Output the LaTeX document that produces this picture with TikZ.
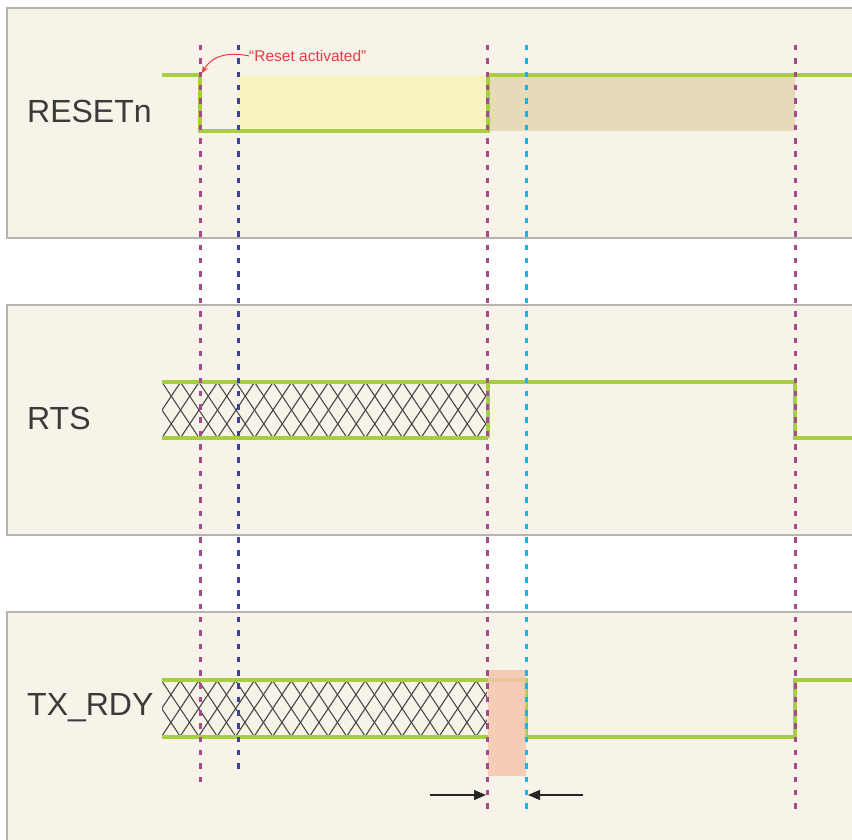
\documentclass[tikz,border=0pt]{standalone}
\usepackage{fontspec}
\setmainfont{Liberation Sans}
\usetikzlibrary{arrows.meta}
\definecolor{panelbg}{HTML}{F7F3E9}
\definecolor{panelbd}{HTML}{B8B3AD}
\definecolor{sig}{HTML}{A6CE3E}
\definecolor{yel}{HTML}{F8F1C0}
\definecolor{tan}{HTML}{E6DAB8}
\definecolor{ora}{HTML}{F5C6AE}
\definecolor{mag}{HTML}{A64A8C}
\definecolor{dblue}{HTML}{3C419C}
\definecolor{cyan2}{HTML}{1FB0E8}
\definecolor{redtxt}{HTML}{EC3A43}
\definecolor{txt}{HTML}{3A3A3A}
\definecolor{hatch}{HTML}{474747}
\tikzset{
  panel/.style={fill=panelbg, draw=panelbd, line width=1.2pt},
  signal/.style={draw=sig, line width=4pt, line join=miter},
  marker/.style={line width=3pt, dash pattern=on 5.5pt off 7.8pt},
  label/.style={anchor=west, inner sep=0pt, text=txt, font=\fontsize{32}{36}\selectfont},
  hatchline/.style={draw=hatch, line width=1.05pt},
  dimarrow/.style={draw=black!85, line width=1.1pt, -{Triangle[length=12pt,width=10pt]}}
}
\newcommand{\hatchband}[2]{%
  \begin{scope}
    \clip (162,#1) rectangle (487,#2);
    \foreach \k in {-3,...,20}{
      \pgfmathsetmacro{\xa}{180.7+\k*18.5}
      \pgfmathsetmacro{\xb}{\xa-(#2-#1)/1.5}
      \draw[hatchline] (\xa,#1) -- (\xb,#2);
      \draw[hatchline] (\xb,#1) -- (\xa,#2);
    }
  \end{scope}}
\begin{document}
\begin{tikzpicture}[x=1pt,y=-1pt]
\useasboundingbox (0,0) rectangle (852,840);
\begin{scope}
\clip (0,0) rectangle (852,840);
% panels
\draw[panel] (7,8) rectangle (870,238);
\draw[panel] (7,305) rectangle (870,535);
\draw[panel] (7,612) rectangle (870,860);

% RESETn shading
\fill[yel] (238,75) rectangle (487,131);
\fill[tan] (487,75) rectangle (795,131);

% hatches
\hatchband{382}{438}
\hatchband{680}{737}

% signals
\coordinate (r0) at (162,75);
\draw[signal] (r0) -- (200,75) -- (200,131) -- (488,131) -- (488,75) -- (870,75);
\draw[signal] (162,382) -- (488,382);
\draw[signal] (162,438) -- (488,438);
\draw[signal] (488,382) -- (488,438);
\draw[signal] (488,382) -- (795,382) -- (795,438) -- (870,438);
\draw[signal] (162,680) -- (488,680);
\draw[signal] (162,737) -- (488,737);
\draw[signal] (488,680) -- (526,680) -- (526,737) -- (795,737) -- (795,680) -- (870,680);

% orange window
\fill[ora, opacity=0.85] (488,670) rectangle (526,776);

% markers
\coordinate (m1t) at (200,45); \coordinate (m1b) at (200,786);
\coordinate (b1t) at (238,45); \coordinate (b1b) at (238,773);
\coordinate (m2t) at (487,45); \coordinate (m2b) at (487,814);
\coordinate (c1t) at (526,45); \coordinate (c1b) at (526,811);
\coordinate (m3t) at (795,45); \coordinate (m3b) at (795,813);
\draw[marker, mag] (m1t) -- (m1b);
\draw[marker, dblue] (b1t) -- (b1b);
\draw[marker, mag] (m2t) -- (m2b);
\draw[marker, cyan2] (c1t) -- (c1b);
\draw[marker, mag] (m3t) -- (m3b);

% labels
\node[label] (lreset) at (27,111) {RESETn};
\node[label] (lrts) at (27,418) {RTS};
\node[label] (ltx) at (27,708) {TX\_RDY};

% annotation
\node[anchor=west, inner sep=0pt, text=redtxt, font=\fontsize{15.5}{18}\selectfont] (ann) at (249,56) {“Reset activated”};
\coordinate (tip) at (202,73);
\draw[redtxt, line width=1pt, -{Stealth[length=7pt,width=6pt]}] (ann.west) .. controls (236,53) and (214,52) .. (tip);

% dimension arrows
\coordinate (a1s) at (430,795); \coordinate (a1e) at (486,795);
\coordinate (a2s) at (583,795); \coordinate (a2e) at (528,795);
\draw[dimarrow] (a1s) -- (a1e);
\draw[dimarrow] (a2s) -- (a2e);
\end{scope}
\end{tikzpicture}
\end{document}
